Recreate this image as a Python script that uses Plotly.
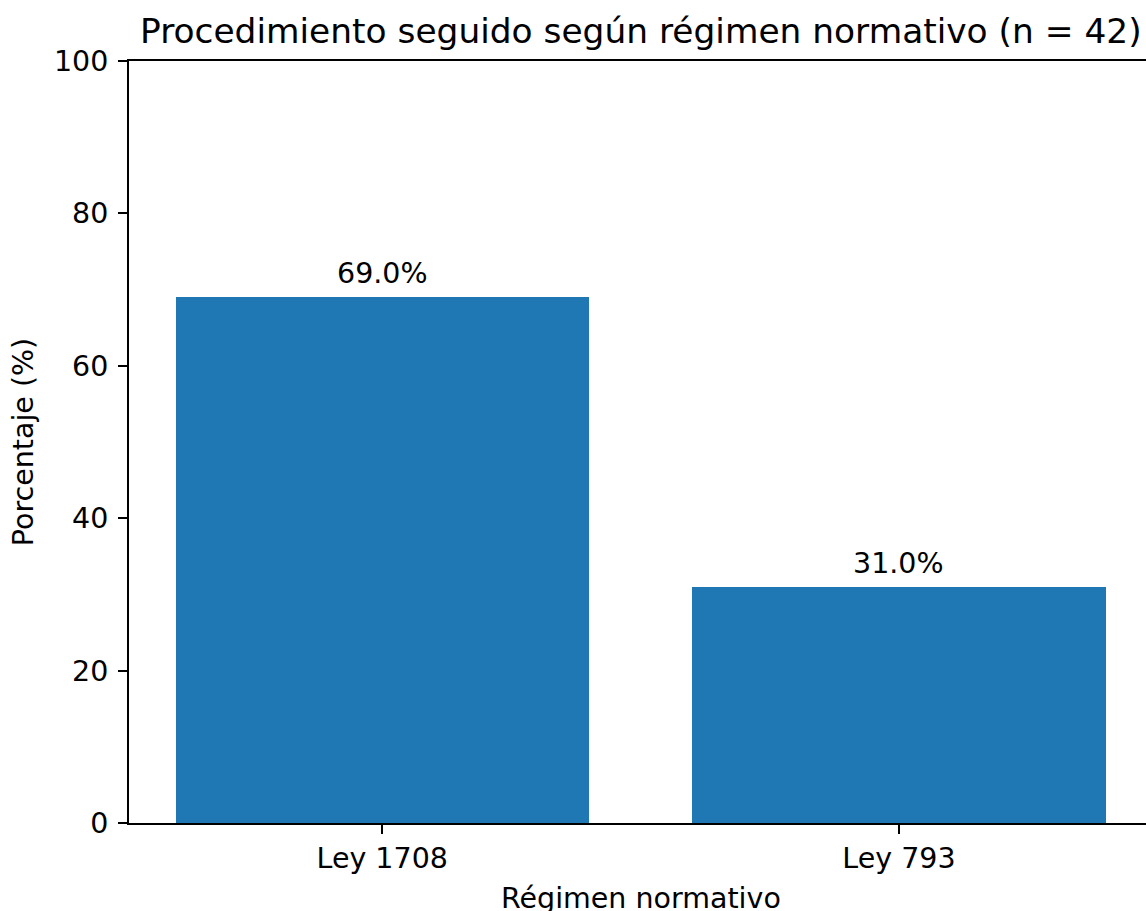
import plotly.graph_objects as go

categories = ["Ley 1708", "Ley 793"]
values = [69.0, 31.0]
labels = ["69.0%", "31.0%"]
yticks = [0, 20, 40, 60, 80, 100]

xpos = list(range(len(categories)))
FONT = "DejaVu Sans"
FS = 28.5

fig = go.Figure()
fig.add_trace(go.Bar(x=xpos, y=values, width=0.8, marker=dict(color="#1f77b4", line=dict(width=0)),
                     showlegend=False, hoverinfo="skip"))

for xv, v, t in zip(xpos, values, labels):
    fig.add_annotation(x=xv, y=v, xref="x", yref="y", text=t, showarrow=False,
                       yanchor="bottom", yshift=5, font=dict(family=FONT, size=FS, color="black"))

fig.add_annotation(x=0.5, y=1, xref="x", yref="paper", text="Procedimiento seguido según régimen normativo (n = 42)",
                   showarrow=False, yanchor="bottom", yshift=8, font=dict(family=FONT, size=34.4, color="black"))
fig.add_annotation(x=0.5, y=0, xref="x", yref="paper", text="Régimen normativo",
                   showarrow=False, yanchor="top", yshift=-57, font=dict(family=FONT, size=FS, color="black"))

fig.update_layout(
    width=1146, height=911,
    margin=dict(l=129, r=0, t=61, b=88),
    paper_bgcolor="white", plot_bgcolor="white",
    font=dict(family=FONT, size=FS, color="black"),
    bargap=0,
)
fig.update_xaxes(range=[-0.49, 1.478], tickvals=xpos, ticktext=categories,
                 showgrid=False, zeroline=False, showline=True, linecolor="black", linewidth=2,
                 mirror=True, ticks="outside", ticklen=9, tickwidth=2, tickcolor="black",
                 tickfont=dict(family=FONT, size=FS, color="black"))
fig.update_yaxes(range=[0, 100], tickvals=yticks, showgrid=False, zeroline=False,
                 showline=True, linecolor="black", linewidth=2, ticks="outside", ticklen=9,
                 tickwidth=2, tickcolor="black", tickfont=dict(family=FONT, size=FS, color="black"),
                 ticklabelstandoff=4,
                 title=dict(text="Porcentaje (%)", font=dict(family=FONT, size=FS, color="black"), standoff=12))

fig.write_html("out.html", config={"displayModeBar": False},
               post_script="document.body.style.margin='0';document.body.style.overflow='hidden';")
